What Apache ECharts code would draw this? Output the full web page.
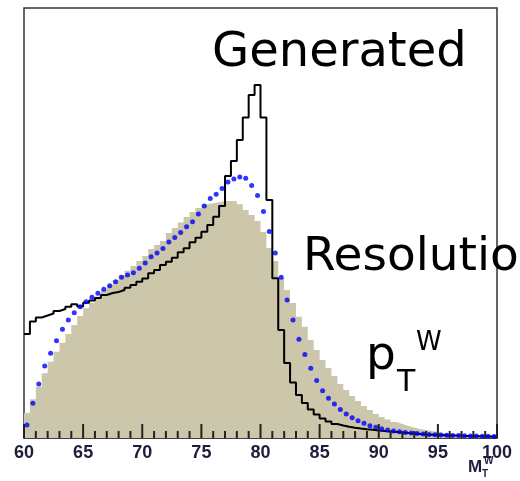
<!DOCTYPE html>
<html>
<head>
<meta charset="utf-8">
<script src="https://cdn.jsdelivr.net/npm/echarts@6/dist/echarts.min.js"></script>
<style>html,body{margin:0;padding:0;background:#fff;}#c{width:520px;height:481px;}</style>
</head>
<body>
<div id="c"></div>
<script>
// Histogram binning (x axis: M_T^W from 60 to 100, 80 bins of 0.5)
const binLow = 60;
const binWidth = 0.5;
const xTickLabels = ['60','65','70','75','80','85','90','95','100'];
const majorTicks = [60,65,70,75,80,85,90,95,100];
const minorTicks = [61,62,63,64,66,67,68,69,71,72,73,74,76,77,78,79,81,82,83,84,86,87,88,89,91,92,93,94,96,97,98,99];

// "Generated" (black step line)
const generated = [
 104,116.5,120.5,122.5,124.5,127,129,131.3,133.7,131.5,
 135.3,137.5,140,143,145,146,148,150.3,153,156.3,
 159.5,164.7,168,173,176.3,180.3,185.7,189.7,195.7,200.3,
 206.3,213,221.3,232,262,277,298,320.5,343,353,
 320.5,238,159.7,108,75,55.5,43,35,28.5,23.5,
 19.5,16.5,14,12.5,11.3,10.3,9.5,8.8,8.2,7.6,
 7,6.5,6,5.5,5,4.5,4,3.6,3.3,3,
 2.8,2.6,2.4,2.2,2,1.9,1.8,1.7,1.6,1.5
];

// "Resolution" (blue points)
const resolution = [
 13,34.7,54,72,84.7,97.3,108.7,118,125.3,131.3,
 136.3,140.7,144.7,148.7,152.3,156.3,160.7,163,165.3,169.7,
 175,181.3,185,189.5,196,200.5,205.5,211.3,216.3,224,
 232,239.5,243.7,249.5,256,259,261,259.7,252.5,242.5,
 226.5,206.5,185,160.7,138,118,98.7,83.5,69.7,57.5,
 47.3,39.7,34,28.5,24,20.3,17.3,14.7,12.3,10.7,
 9.3,8,7,6.2,5.5,5,4.5,4,3.6,3.3,
 3,2.8,2.6,2.4,2.2,2,1.9,1.8,1.7,1.6
];

// "pT^W" (filled tan histogram)
const ptW = [
 25,38.7,51.3,64.7,76.3,86.3,95.3,104,113,122,
 129.7,135.3,141.3,148,153,158,163,167.3,172,177,
 182,189,193,197,205,210,215.5,221,226,230,
 233.7,234.7,235.7,237,237,237,233.7,228,223,217,
 206,190,177,160,148,135,121.3,111.3,98,88,
 78,70,62,54,48,42,37,32,28,24,
 21,18.5,16,14,12,10.5,9,8,7,6,
 5,4.2,3.5,3,2.6,2.2,1.9,1.6,1.4,1.2
];

function stepData(vals) {
  const out = vals.map((v, i) => [binLow + i * binWidth, v]);
  out.push([binLow + vals.length * binWidth, vals[vals.length - 1]]);
  return out;
}
function centerData(vals) {
  return vals.map((v, i) => [binLow + (i + 0.5) * binWidth, v]);
}
// tick marks as thin bars rising from the axis (y-axis units equal plot pixels here)
const tickBars = majorTicks.map(v => [v, 14]).concat(minorTicks.map(v => [v, 7]));

const chart = echarts.init(document.getElementById('c'), null, {renderer: 'canvas'});
const tickColor = '#222';
const labelColor = '#1e1e3c';

const textElements = [
  {type: 'text', x: 212, y: 30, z: 20, style: {text: 'Generated', fontSize: 48, fontFamily: 'DejaVu Sans', fill: '#000', verticalAlign: 'top', align: 'left'}},
  {type: 'text', x: 303, y: 234, z: 20, style: {text: 'Resolution', fontSize: 47, fontFamily: 'DejaVu Sans', fill: '#000', verticalAlign: 'top', align: 'left'}},
  {type: 'text', x: 366, y: 333, z: 20, style: {text: 'p', fontSize: 47, fontFamily: 'DejaVu Sans', fill: '#000', verticalAlign: 'top', align: 'left'}},
  {type: 'text', x: 397, y: 368, z: 20, style: {text: 'T', fontSize: 30, fontFamily: 'DejaVu Sans', fill: '#000', verticalAlign: 'top', align: 'left'}},
  {type: 'text', x: 416, y: 330, z: 20, style: {text: 'W', fontSize: 26, fontFamily: 'DejaVu Sans', fill: '#000', verticalAlign: 'top', align: 'left'}},
  {type: 'text', x: 468, y: 459, z: 20, style: {text: 'M', fontSize: 17, fontWeight: 'bold', fontFamily: 'Liberation Sans', fill: labelColor, verticalAlign: 'top', align: 'left'}},
  {type: 'text', x: 484, y: 456, z: 20, style: {text: 'W', fontSize: 10, fontWeight: 'bold', fontFamily: 'Liberation Sans', fill: labelColor, verticalAlign: 'top', align: 'left'}},
  {type: 'text', x: 482, y: 469, z: 20, style: {text: 'T', fontSize: 10, fontWeight: 'bold', fontFamily: 'Liberation Sans', fill: labelColor, verticalAlign: 'top', align: 'left'}}
];

chart.setOption({
  animation: false,
  backgroundColor: '#fff',
  grid: {left: 24, right: 23, top: 8, bottom: 43, show: true, borderColor: '#333', borderWidth: 1.5, containLabel: false},
  xAxis: {
    type: 'value', min: 60, max: 100, interval: 5,
    axisLine: {show: true, lineStyle: {color: '#333', width: 1.5}},
    axisTick: {show: false},
    minorTick: {show: false},
    splitLine: {show: false},
    axisLabel: {
      show: true, margin: 6, fontSize: 18, fontWeight: 'bold', fontFamily: 'Liberation Sans',
      color: labelColor, showMinLabel: true, showMaxLabel: true,
      formatter: function (v) { const i = Math.round((v - 60) / 5); return xTickLabels[i] !== undefined ? xTickLabels[i] : ''; }
    }
  },
  yAxis: {type: 'value', min: 0, max: 430, show: false, splitLine: {show: false}},
  series: [
    {
      name: 'pT', type: 'line', step: 'end', data: stepData(ptW), symbol: 'none',
      lineStyle: {width: 0, color: '#ccc6ab'}, areaStyle: {color: '#ccc6ab', opacity: 1}, z: 1
    },
    {
      name: 'Generated', type: 'line', step: 'end', data: stepData(generated), symbol: 'none',
      lineStyle: {width: 2, color: '#000'}, z: 2
    },
    {
      name: 'Resolution', type: 'scatter', data: centerData(resolution), symbol: 'circle', symbolSize: 5,
      itemStyle: {color: '#0000ff'}, z: 3
    },
    {
      name: 'ticks', type: 'bar', data: tickBars, barWidth: 2, barGap: '-100%',
      itemStyle: {color: tickColor}, z: 6, silent: true, clip: false
    }
  ],
  graphic: {elements: textElements}
});
</script>
</body>
</html>
